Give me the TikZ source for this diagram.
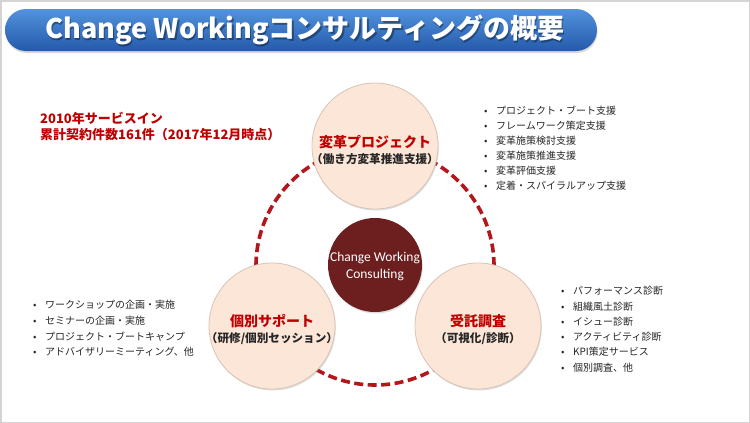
\documentclass[tikz,border=0pt]{standalone}
\usepackage{fontspec}
\setmainfont{Noto Sans CJK JP}
\newfontfamily\calfont{Carlito}
\usetikzlibrary{shadows}
\definecolor{titletop}{HTML}{5293DD}
\definecolor{titlebot}{HTML}{2459AA}
\definecolor{peach}{HTML}{FCE6D8}
\definecolor{rim}{HTML}{D8C4B6}
\definecolor{hubred}{HTML}{6D1E1E}
\definecolor{accent}{HTML}{C00000}
\definecolor{txt}{HTML}{262626}
\definecolor{dashred}{HTML}{B3161B}
\definecolor{framecol}{HTML}{D4D4D4}
\begin{document}
\begin{tikzpicture}[x=1pt,y=-1pt,
  bigcirc/.style={circle, minimum size=126pt, inner sep=0pt, fill=peach, draw=rim, line width=0.8pt,
    drop shadow={opacity=0.25, shadow xshift=0.8pt, shadow yshift=-1.5pt}},
  hub/.style={circle, minimum size=94pt, inner sep=0pt, fill=hubred, draw=none,
    drop shadow={opacity=0.25, shadow xshift=0.8pt, shadow yshift=-1.5pt}},
  headlbl/.style={text=accent, font=\fontsize{14}{17}\selectfont\bfseries, inner sep=0pt},
  sublbl/.style={text=txt, font=\fontsize{11.6}{14}\selectfont\bfseries, inner sep=0pt},
  item/.style={anchor=west, text=txt, font=\fontsize{10}{12}\selectfont, inner sep=0pt},
  note/.style={anchor=west, text=accent, font=\fontsize{13}{16}\selectfont\bfseries, inner sep=0pt},
  ring/.style={dashred, line width=3.6pt, dash pattern=on 9pt off 4.5pt},
  titlefont/.style={font=\fontsize{27}{32}\selectfont\bfseries}
]
\useasboundingbox (0,0) rectangle (750,423);
\fill[white] (0,0) rectangle (750,423);
\draw[framecol, line width=1.5pt] (0.75,0.75) rectangle (749.25,422.25);

% title
\node[minimum width=592pt, minimum height=42pt, rounded corners=21pt, inner sep=0pt,
  top color=titletop, bottom color=titlebot,
  drop shadow={opacity=0.3, shadow xshift=0.5pt, shadow yshift=-2pt}] (title) at (301,30) {};
\node[titlefont, text=black, opacity=0.35] (titleshadow) at (306.2,31.4) {Change Workingコンサルティングの概要};
\node[titlefont, text=white] (titletext) at (305,30) {Change Workingコンサルティングの概要};

% ring
\coordinate (ringc) at (375,266);
\draw[ring] (ringc) circle[radius=119pt];

% circles
\node[hub] (hubc) at (375,265) {};
\node[text=white, font=\calfont\fontsize{13.5}{17}\selectfont, align=center, inner sep=0pt] (hubtext) at (375,266) {Change Working\\Consulting};

\node[bigcirc] (top) at (375,146) {};
\node[bigcirc] (left) at (272,326) {};
\node[bigcirc] (right) at (478,326) {};

\node[headlbl] (toph) at (375,142) {変革プロジェクト};
\node[sublbl] (tops) at (375,159) {（働き方変革推進支援）};
\node[headlbl] (lefth) at (272,321) {個別サポート};
\node[sublbl] (lefts) at (272,339) {（研修/個別セッション）};
\node[headlbl] (righth) at (478,321) {受託調査};
\node[sublbl] (rights) at (478,339) {（可視化/診断）};

% notes
\node[note] (note1) at (40,118) {2010年サービスイン};
\node[note] (note2) at (40,135) {累計契約件数161件（2017年12月時点）};

% lists
\foreach \t [count=\i] in {プロジェクト・ブート支援, フレームワーク策定支援, 変革施策検討支援, 変革施策推進支援, 変革評価支援, 定着・スパイラルアップ支援}
  \node[item] (tr\i) at (484,111+15*\i-15) {\makebox[12pt][l]{•}\t};
\foreach \t [count=\i] in {ワークショップの企画・実施, セミナーの企画・実施, プロジェクト・ブートキャンプ, アドバイザリーミーティング、他}
  \node[item] (bl\i) at (33,305+15.6*\i-15.6) {\makebox[12pt][l]{•}\t};
\foreach \t [count=\i] in {パフォーマンス診断, 組織風土診断, イシュー診断, アクティビティ診断, KPI策定サービス, 個別調査、他}
  \node[item] (br\i) at (561,291+15.3*\i-15.3) {\makebox[12pt][l]{•}\t};
\end{tikzpicture}
\end{document}
